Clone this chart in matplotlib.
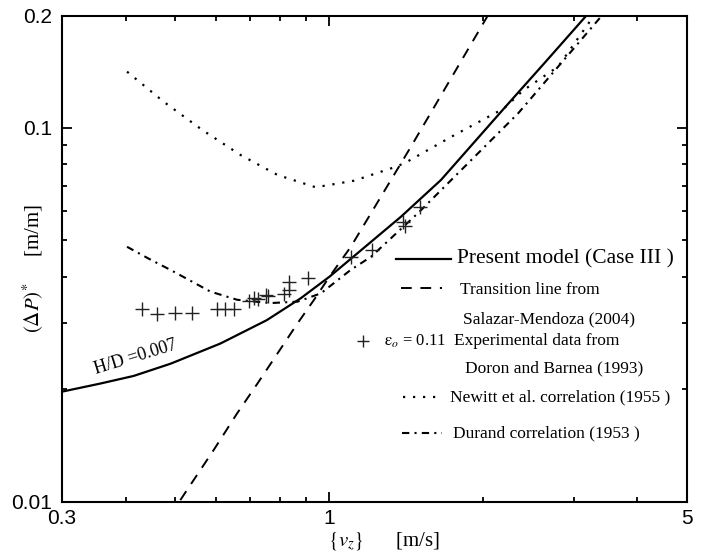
"""Pressure gradient vs mixture velocity, log-log comparison of models and data."""
import matplotlib
matplotlib.use("Agg")
import matplotlib.pyplot as plt
from matplotlib.lines import Line2D
from matplotlib.ticker import FixedLocator, NullFormatter

# present model (Case III), H/D = 0.007
model_v = [0.30, 0.356, 0.414, 0.489, 0.612, 0.754, 0.878, 1.0, 1.106, 1.38, 1.652, 2.195, 2.63, 3.18]
model_p = [0.0197, 0.0207, 0.0217, 0.0234, 0.0265, 0.0306, 0.035, 0.040, 0.0449, 0.0579, 0.0726, 0.1129, 0.149, 0.2]

# transition line, Salazar-Mendoza (2004)
trans_v = [0.511, 0.594, 0.660, 0.723, 0.791, 0.866, 0.933, 1.0, 1.101, 1.443, 2.04]
trans_p = [0.0101, 0.01376, 0.01724, 0.0207, 0.0249, 0.0300, 0.0347, 0.040, 0.0481, 0.0891, 0.2]

# Newitt et al. correlation (1955)
newitt_v = [0.402, 0.474, 0.564, 0.670, 0.791, 0.940, 1.118, 1.32, 1.40, 1.73, 2.195, 2.39, 2.8, 3.29]
newitt_p = [0.1415, 0.1176, 0.0988, 0.0847, 0.0749, 0.0694, 0.0723, 0.078, 0.0804, 0.0947, 0.1129, 0.126, 0.146, 0.2]

# Durand correlation (1953)
durand_v = [0.402, 0.446, 0.489, 0.585, 0.66, 0.767, 0.866, 0.962, 1.10, 1.205, 1.49, 2.34, 3.41]
durand_p = [0.0481, 0.0445, 0.0417, 0.0365, 0.0347, 0.034, 0.0343, 0.0361, 0.0417, 0.0452, 0.0592, 0.1096, 0.2]

# experimental data, Doron and Barnea (1993), eps_o = 0.11
exp_v = [0.430, 0.461, 0.500, 0.539, 0.603, 0.626, 0.652, 0.695, 0.711, 0.724, 0.750, 0.760,
         0.815, 0.833, 0.833, 0.907, 1.101, 1.211, 1.393, 1.405, 1.504]
exp_p = [0.0328, 0.0318, 0.0319, 0.0319, 0.0327, 0.0327, 0.0327, 0.0344, 0.0351, 0.0349, 0.0357, 0.0355,
         0.0360, 0.0369, 0.0388, 0.0397, 0.0452, 0.0472, 0.0560, 0.0547, 0.0615]

SOLID = dict(color="black", lw=1.6, ls="-")
DASH = dict(color="black", lw=1.4, ls=(0, (5.5, 4.5)))
DOT = dict(color="black", lw=1.6, ls=(0, (1, 3.5)))
DASHDOT = dict(color="black", lw=1.5, ls=(0, (3.5, 2.5, 1, 2.5)))

plt.rcParams.update({
    "font.family": "Liberation Serif",
    "mathtext.fontset": "stix",
})

fig = plt.figure(figsize=(7.07, 5.57), dpi=100)
ax = fig.add_axes([62 / 707, 55.3 / 557, 625 / 707, 486.2 / 557])

ax.plot(model_v, model_p, **SOLID)
ax.plot(trans_v, trans_p, **DASH)
ax.plot(newitt_v, newitt_p, **DOT)
ax.plot(durand_v, durand_p, **DASHDOT)
ax.plot(exp_v, exp_p, ls="none", marker="+", ms=10, mew=1.0, color="#222222")

ax.set_xscale("log")
ax.set_yscale("log")
ax.set_xlim(0.3, 5)
ax.set_ylim(0.01, 0.2)

ax.xaxis.set_major_locator(FixedLocator([0.3, 1, 5]))
ax.xaxis.set_minor_locator(FixedLocator([0.4, 0.5, 0.6, 0.7, 0.8, 0.9, 2, 3, 4]))
ax.set_xticklabels(["0.3", "1", "5"])
ax.yaxis.set_major_locator(FixedLocator([0.01, 0.1, 0.2]))
ax.yaxis.set_minor_locator(FixedLocator([0.02, 0.03, 0.04, 0.05, 0.06, 0.07, 0.08, 0.09]))
ax.set_yticklabels(["0.01", "0.1", "0.2"])
ax.xaxis.set_minor_formatter(NullFormatter())
ax.yaxis.set_minor_formatter(NullFormatter())

ax.tick_params(which="both", direction="in", top=True, right=True, width=1.3)
ax.tick_params(which="major", length=7)
ax.tick_params(which="minor", length=3.5)
ax.tick_params(axis="x", pad=5)
ax.tick_params(axis="y", pad=7)
for lab in ax.get_xticklabels() + ax.get_yticklabels():
    lab.set_fontfamily("Liberation Sans")
    lab.set_fontsize(15)
for sp in ax.spines.values():
    sp.set_linewidth(1.5)

# axis labels
fig.text(384 / 707, 1 - 541 / 557, r"$\{v_z\}$      [m/s]", ha="center", va="center", fontsize=15)
fig.text(33 / 707, 1 - 269 / 557, r"$(\Delta P)^{*}$     [m/m]", ha="center", va="center",
         rotation=90, fontsize=15)

ax.text(0.418, 0.0243, "H/D =0.007", rotation=17, rotation_mode="anchor",
        ha="center", va="center", fontsize=13)

# hand-made legend, in axes fraction
def ax_x(px):
    return (px - 62) / 625


def ax_y(py):
    return (501.7 - py) / 486.2


T = ax.transAxes
keys = [
    (396, 451, 259, SOLID),
    (401, 442, 288, DASH),
    (403, 440, 397, DOT),
    (402, 442, 433, DASHDOT),
]
for x0, x1, yy, st in keys:
    ax.add_line(Line2D([ax_x(x0), ax_x(x1)], [ax_y(yy), ax_y(yy)], transform=T, **st))
ax.add_line(Line2D([ax_x(363)], [ax_y(341)], transform=T, ls="none", marker="+",
                   ms=9, mew=1.0, color="#222222"))

ax.text(ax_x(457), ax_y(259), "Present model (Case III )", transform=T, fontsize=15.5, va="center")
ax.text(ax_x(460), ax_y(290), "Transition line from", transform=T, fontsize=12.5, va="center")
ax.text(ax_x(463), ax_y(319), "Salazar-Mendoza (2004)", transform=T, fontsize=12.5, va="center")
ax.text(ax_x(384), ax_y(341), r"$\mathrm{\varepsilon}_{o}$ = 0.11", transform=T, fontsize=12, va="center")
ax.text(ax_x(454), ax_y(341), "Experimental data from", transform=T, fontsize=12.5, va="center")
ax.text(ax_x(465), ax_y(368), "Doron and Barnea (1993)", transform=T, fontsize=12.5, va="center")
ax.text(ax_x(450), ax_y(397), "Newitt et al. correlation (1955 )", transform=T, fontsize=12.5, va="center")
ax.text(ax_x(453), ax_y(433), "Durand correlation (1953 )", transform=T, fontsize=12.5, va="center")

fig.savefig("out.png", dpi=100, facecolor="white")
